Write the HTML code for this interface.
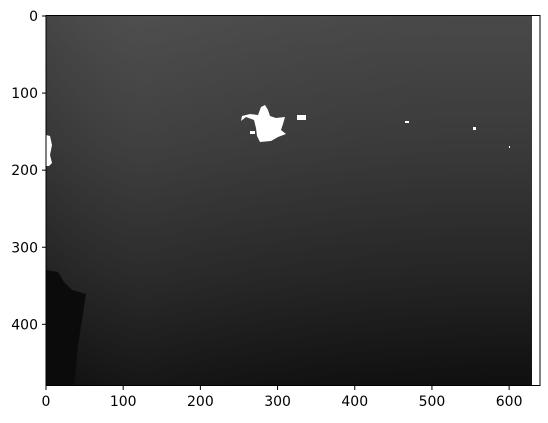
<!DOCTYPE html>
<html><head><meta charset="utf-8"><style>
body{margin:0;background:#fff;width:548px;height:418px;overflow:hidden}
text{font-family:"DejaVu Sans","Liberation Sans",sans-serif;font-size:14px;fill:#000}
</style></head><body>
<svg width="548" height="418">
<defs>
<linearGradient id="g" x1="0" y1="0" x2="0" y2="1">
<stop offset="0" stop-color="#494949"/>
<stop offset="0.35" stop-color="#3a3a3a"/>
<stop offset="0.7" stop-color="#252525"/>
<stop offset="1" stop-color="#0f0f0f"/>
</linearGradient>
<linearGradient id="h" x1="0" y1="0" x2="1" y2="0">
<stop offset="0" stop-color="#000" stop-opacity="0.05"/>
<stop offset="0.2" stop-color="#fff" stop-opacity="0.03"/>
<stop offset="1" stop-color="#000" stop-opacity="0"/>
</linearGradient>
</defs>
<g>
<rect x="46" y="16" width="486" height="370" fill="url(#g)"/>
<rect x="46" y="16" width="486" height="370" fill="url(#h)"/>
<path d="M46 270 L58 272 L64 282 L72 290 L86 294 L82 320 L78 345 L74 386 L46 386Z" fill="#0b0b0b"/>
<path d="M261 107 L265 105 L268 110 L270 116 L276 118 L285 117 L283 124 L281 130 L286 134 L278 137 L271 141 L260 142 L257 136 L256 128 L254 120 L246 117 L241 121 L242 116 L250 114 L258 115Z" fill="#fff"/>
<rect x="297" y="115" width="9" height="5" fill="#fff"/>
<rect x="250" y="131" width="5" height="3" fill="#fff"/>
<path d="M46 135 L50 136 L52 145 L50 155 L52 163 L49 166 L46 166Z" fill="#fff"/>
<rect x="405" y="121" width="4" height="2" fill="#fff"/>
<rect x="473" y="127" width="3" height="3" fill="#fff"/>
<rect x="509" y="146" width="1" height="2" fill="#fff"/>
</g>
<rect x="46" y="15.5" width="494" height="370" fill="none" stroke="#000" stroke-width="1"/>
<g id="xt"></g>
<g id="yt"></g>
</svg>
<script>
const xTicks=[0,100,200,300,400,500,600];
const yTicks=[0,100,200,300,400];
const ns="http://www.w3.org/2000/svg";
const sx=v=>46+v*494/640, sy=v=>16+v*370/480;
const xt=document.getElementById('xt'), yt=document.getElementById('yt');
xTicks.forEach(v=>{
 const l=document.createElementNS(ns,'line');
 
 
 l.setAttribute('x1',sx(v));l.setAttribute('x2',sx(v));l.setAttribute('y1',386);l.setAttribute('y2',390);l.setAttribute('stroke','#000');
 xt.appendChild(l);
 const t=document.createElementNS(ns,'text');
 
 
 t.setAttribute('x',sx(v));t.setAttribute('y',406);t.setAttribute('text-anchor','middle');t.textContent=v;
 xt.appendChild(t);
});
yTicks.forEach(v=>{
 const l=document.createElementNS(ns,'line');
 
 
 l.setAttribute('x1',42);l.setAttribute('x2',46);l.setAttribute('y1',sy(v));l.setAttribute('y2',sy(v));l.setAttribute('stroke','#000');
 yt.appendChild(l);
 const t=document.createElementNS(ns,'text');
 
 
 t.setAttribute('x',38);t.setAttribute('y',sy(v)+5);t.setAttribute('text-anchor','end');t.textContent=v;
 yt.appendChild(t);
});
</script>
</body></html>
